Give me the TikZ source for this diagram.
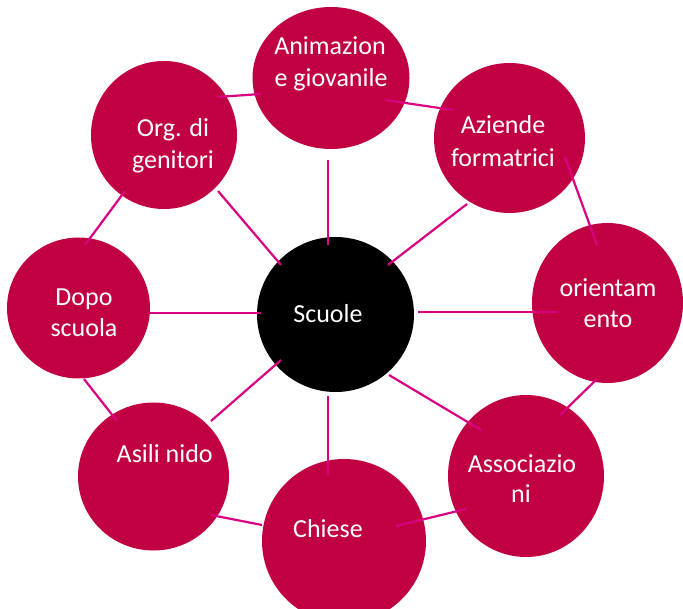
\documentclass[tikz,border=0pt]{standalone}
\usepackage{fontspec}
\setmainfont{Carlito}
\usetikzlibrary{shapes.geometric}
\definecolor{crim}{RGB}{192,0,66}
\definecolor{lnk}{RGB}{218,0,130}
\tikzset{
  bub/.style={ellipse, fill=crim, draw=none, inner sep=0pt},
  hub/.style={ellipse, fill=black, draw=none, inner sep=0pt},
  lbl/.style={anchor=base, text=white, inner sep=0pt, font=\fontsize{26}{32}\selectfont},
  conn/.style={draw=lnk, line width=2.2pt}
}
\begin{document}
\begin{tikzpicture}[x=1pt,y=-1pt]
\useasboundingbox (0,0) rectangle (683,609);
% circles
\node[bub, minimum width=157pt, minimum height=142pt] (anim) at (331,78) {};
\node[bub, minimum width=146pt, minimum height=148pt] (org) at (164,135) {};
\node[bub, minimum width=151pt, minimum height=150pt] (azi) at (509.5,138) {};
\node[bub, minimum width=151pt, minimum height=160pt] (ori) at (607.5,303) {};
\node[bub, minimum width=156pt, minimum height=162pt] (ass) at (526,476) {};
\node[bub, minimum width=164pt, minimum height=164pt] (chi) at (344,541) {};
\node[bub, minimum width=151pt, minimum height=148pt] (asi) at (153.5,476.5) {};
\node[bub, minimum width=143pt, minimum height=141pt] (dopo) at (78.5,308) {};
\node[hub, minimum width=157pt, minimum height=155pt] (scu) at (335.5,314.5) {};
% labels
\node[lbl] (animA) at (330,55) {Animazion};
\node[lbl] (animB) at (331,87) {e giovanile};
\node[lbl] (orgA) at (173,137) {Org. di};
\node[lbl] (orgB) at (173,169) {genitori};
\node[lbl] (aziA) at (503,134) {Aziende};
\node[lbl] (aziB) at (503,166.5) {formatrici};
\node[lbl] (oriA) at (608,297) {orientam};
\node[lbl] (oriB) at (608,328) {ento};
\node[lbl] (assA) at (522,472) {Associazio};
\node[lbl] (assB) at (521,503) {ni};
\node[lbl] (dopoA) at (84,306) {Dopo};
\node[lbl] (dopoB) at (84,337) {scuola};
\node[lbl] (asiA) at (164.7,463) {Asili nido};
\node[lbl] (chiA) at (328,537) {Chiese};
\node[lbl] (scuA) at (328,323) {Scuole};
% connector end points
\coordinate (p1) at (217,97);   \coordinate (q1) at (261,94);
\coordinate (p2) at (385,100);  \coordinate (q2) at (453,110);
\coordinate (p3) at (565,157);  \coordinate (q3) at (597,245);
\coordinate (p4) at (597,379);  \coordinate (q4) at (560,415);
\coordinate (p5) at (466,509);  \coordinate (q5) at (396,526);
\coordinate (p6) at (211,515);  \coordinate (q6) at (262,525);
\coordinate (p7) at (84,379);   \coordinate (q7) at (117,421);
\coordinate (p8) at (85,245);   \coordinate (q8) at (125,191);
\coordinate (s1) at (218,191);  \coordinate (t1) at (281,265);
\coordinate (s2) at (328,160);  \coordinate (t2) at (328,245);
\coordinate (s3) at (467,204);  \coordinate (t3) at (388,265);
\coordinate (s4) at (418,312);  \coordinate (t4) at (557,312);
\coordinate (s5) at (389,375);  \coordinate (t5) at (481,430);
\coordinate (s6) at (328,396);  \coordinate (t6) at (328,475);
\coordinate (s7) at (281,360);  \coordinate (t7) at (211,421);
\coordinate (s8) at (150,313);  \coordinate (t8) at (261,313);
% ring connectors
\draw[conn] (p1) -- (q1);
\draw[conn] (p2) -- (q2);
\draw[conn] (p3) -- (q3);
\draw[conn] (p4) -- (q4);
\draw[conn] (p5) -- (q5);
\draw[conn] (p6) -- (q6);
\draw[conn] (p7) -- (q7);
\draw[conn] (p8) -- (q8);
% spokes
\draw[conn] (s1) -- (t1);
\draw[conn] (s2) -- (t2);
\draw[conn] (s3) -- (t3);
\draw[conn] (s4) -- (t4);
\draw[conn] (s5) -- (t5);
\draw[conn] (s6) -- (t6);
\draw[conn] (s7) -- (t7);
\draw[conn] (s8) -- (t8);
\end{tikzpicture}
\end{document}
